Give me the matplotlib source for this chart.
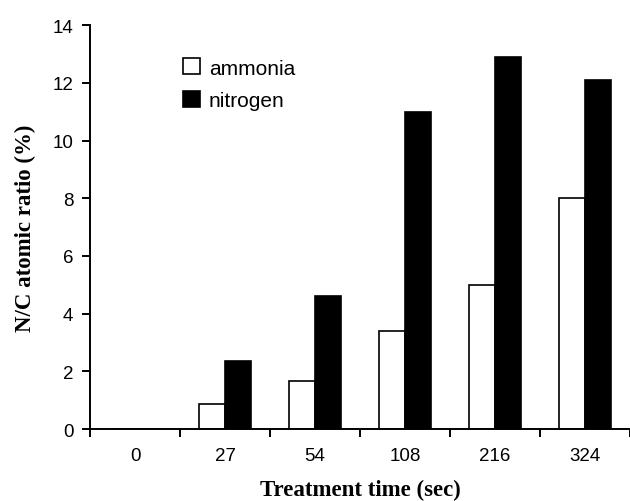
import numpy as np
import matplotlib.pyplot as plt

times = ["0", "27", "54", "108", "216", "324"]
ammonia = [0, 0.88, 1.65, 3.4, 5.0, 8.0]
nitrogen = [0, 2.35, 4.6, 11.0, 12.9, 12.1]

fig = plt.figure(figsize=(6.3, 5.02), dpi=100)
ax = fig.add_axes([0.143, 0.1434, 0.857, 0.8046])

x = np.arange(len(times))
w = 0.286
ax.bar(x - w / 2, ammonia, w, color="white", edgecolor="black", linewidth=1.2, label="ammonia")
ax.bar(x + w / 2, nitrogen, w, color="black", edgecolor="black", linewidth=1.2, label="nitrogen")

ax.set_xlim(-0.5, 5.43)
ax.set_ylim(0, 14)
ax.set_yticks(range(0, 15, 2))

# category labels sit between the tick marks
ax.set_xticks(np.arange(-0.5, 6, 1))
ax.set_xticklabels([])
ax.set_xticks(x, minor=True)
ax.set_xticklabels(times, minor=True, fontfamily="Liberation Sans", fontsize=13.5)
ax.tick_params(axis="x", which="minor", length=0, pad=13)
ax.tick_params(axis="both", which="major", direction="out", length=6, width=1.4)
for lab in ax.get_yticklabels():
    lab.set_fontfamily("Liberation Sans")
    lab.set_fontsize(13.5)
ax.tick_params(axis="y", pad=6)

for s in ["top", "right"]:
    ax.spines[s].set_visible(False)
for s in ["left", "bottom"]:
    ax.spines[s].set_linewidth(1.4)

ax.set_xlabel("Treatment time (sec)", fontfamily="Liberation Serif", fontweight="bold", fontsize=16.5, labelpad=11)
ax.set_ylabel("N/C atomic ratio (%)", fontfamily="Liberation Serif", fontweight="bold", fontsize=16.5, labelpad=12)

ax.legend(loc="upper left", bbox_to_anchor=(0.172, 0.918), frameon=False,
          prop={"family": "Liberation Sans", "size": 15},
          handlelength=0.82, handleheight=0.82, handletextpad=0.43, labelspacing=0.65,
          borderpad=0, borderaxespad=0)

plt.savefig("out.png", dpi=100)
